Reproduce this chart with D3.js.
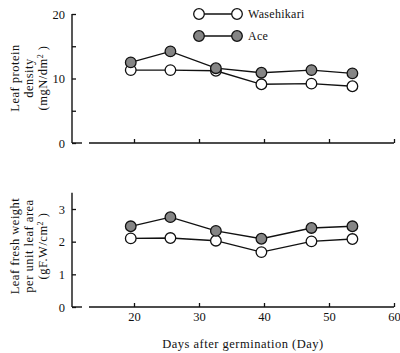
<!DOCTYPE html>
<html>
<head>
<meta charset="utf-8">
<script src="https://cdn.jsdelivr.net/npm/d3@7"></script>
<style>
  body { margin: 0; background: #fff; }
  svg { display: block; font-family: "Liberation Serif", "DejaVu Serif", serif; }
</style>
</head>
<body>
<svg></svg>
<script>
// data
let days = [19.5, 25.6, 32.6, 39.6, 47.3, 53.6];
let proteinWasehikari = [11.3, 11.3, 11.2, 9.1, 9.2, 8.8];
let proteinAce = [12.5, 14.2, 11.6, 10.9, 11.3, 10.8];
let weightWasehikari = [2.1, 2.11, 2.03, 1.68, 2.01, 2.08];
let weightAce = [2.47, 2.75, 2.33, 2.09, 2.42, 2.47];
let xTicks = [20, 30, 40, 50, 60];
let proteinTicks = [0, 5, 10, 15, 20];
let weightTicks = [0, 1, 2, 3];

let width = 400;
let height = 353;

const svg = d3.select('svg')
              .attr('width', width)
              .attr('height', height);

let xScale = d3.scaleLinear()
               .domain([0, 60])
               .range([4, 394]);

let yTop = d3.scaleLinear()
             .domain([0, 20])
             .range([143, 14]);

let yBottom = d3.scaleLinear()
                .domain([0, 3])
                .range([307, 209]);

let axisX0 = 72;

let drawPanel = (yScale, yTicks, yTop_, labelFmt, series, showXLabels, titleLines, titleY) => {
    let base = yScale(0);

    // y axis line
    svg.append('line')
       .attr('x1', axisX0).attr('x2', axisX0)
       .attr('y1', base).attr('y2', yTop_)
       .attr('stroke', '#111').attr('stroke-width', 1.4);

    let yAxis = d3.axisLeft(yScale)
                  .tickValues(yTicks)
                  .tickSize(-4)
                  .tickPadding(7)
                  .tickFormat(labelFmt);
    let gy = svg.append('g')
                .attr('transform', 'translate(' + axisX0 + ', 0)')
                .call(yAxis);
    gy.select('.domain').remove();
    gy.selectAll('line').attr('stroke', '#111').attr('stroke-width', 1.3);
    gy.selectAll('text').attr('font-size', 12.5).attr('fill', '#111')
      .attr('font-family', '"Liberation Serif", serif');

    // x axis, with break near the origin
    svg.append('line')
       .attr('x1', axisX0).attr('x2', 82)
       .attr('y1', base).attr('y2', base)
       .attr('stroke', '#111').attr('stroke-width', 1.4);
    svg.append('line')
       .attr('x1', 89).attr('x2', xScale(60))
       .attr('y1', base).attr('y2', base)
       .attr('stroke', '#111').attr('stroke-width', 1.4);

    let xAxis = d3.axisBottom(xScale)
                  .tickValues(xTicks)
                  .tickSize(-4)
                  .tickPadding(5)
                  .tickFormat(showXLabels ? d3.format('d') : () => '');
    let gx = svg.append('g')
                .attr('transform', 'translate(0, ' + base + ')')
                .call(xAxis);
    gx.select('.domain').remove();
    gx.selectAll('line').attr('stroke', '#111').attr('stroke-width', 1.3);
    gx.selectAll('text').attr('font-size', 12.5).attr('fill', '#111')
      .attr('font-family', '"Liberation Serif", serif');

    // lines and markers
    let line = d3.line()
                 .x((d, i) => xScale(days[i]))
                 .y((d) => yScale(d));

    series.forEach((s) => {
        svg.append('path')
           .datum(s.values)
           .attr('d', line)
           .attr('fill', 'none')
           .attr('stroke', '#111')
           .attr('stroke-width', 1.4);
    });
    series.forEach((s) => {
        svg.append('g')
           .selectAll('circle')
           .data(s.values)
           .enter()
           .append('circle')
           .attr('cx', (d, i) => xScale(days[i]))
           .attr('cy', (d) => yScale(d))
           .attr('r', 5.3)
           .attr('fill', s.fill)
           .attr('stroke', '#111')
           .attr('stroke-width', 1.3);
    });

    // rotated y title
    let t = svg.append('text')
               .attr('transform', 'translate(0,' + titleY + ') rotate(-90)')
               .attr('text-anchor', 'middle')
               .attr('font-size', 12.5)
               .attr('letter-spacing', 0.5)
               .attr('fill', '#111');
    titleLines.forEach((ln, i) => {
        let ts = t.append('tspan')
                  .attr('x', 0)
                  .attr('y', 19 + i * 14);
        ln.forEach((part) => {
            let p = ts.append('tspan').text(part.t);
            if (part.sup) p.attr('dy', -4).attr('font-size', 8);
            else if (part.after) p.attr('dy', 4);
        });
    });
};

drawPanel(yTop, proteinTicks, yTop(20),
          (d) => (d % 10 === 0 ? d : ''),
          [{ values: proteinWasehikari, fill: '#fff' },
           { values: proteinAce, fill: '#858585' }],
          false,
          [[{ t: 'Leaf protein' }], [{ t: 'density' }], [{ t: '(mgN/dm' }, { t: '2', sup: true }, { t: ' )', after: true }]],
          78);

drawPanel(yBottom, weightTicks, yBottom(3.5),
          d3.format('d'),
          [{ values: weightWasehikari, fill: '#fff' },
           { values: weightAce, fill: '#858585' }],
          true,
          [[{ t: 'Leaf fresh weight' }], [{ t: 'per unit leaf area' }], [{ t: '(gF.W/cm' }, { t: '2', sup: true }, { t: ' )', after: true }]],
          246);

// x title
svg.append('text')
   .attr('x', 243)
   .attr('y', 348)
   .attr('text-anchor', 'middle')
   .attr('font-size', 12.5)
   .attr('letter-spacing', 0.5)
   .attr('fill', '#111')
   .text('Days after germination  (Day)');

// legend
let legendItems = [
    { name: 'Wasehikari', fill: '#fff', y: 14 },
    { name: 'Ace', fill: '#858585', y: 36 }
];
legendItems.forEach((it) => {
    svg.append('line')
       .attr('x1', 199).attr('x2', 237)
       .attr('y1', it.y).attr('y2', it.y)
       .attr('stroke', '#111').attr('stroke-width', 1.4);
    [199, 237].forEach((cx) => {
        svg.append('circle')
           .attr('cx', cx).attr('cy', it.y).attr('r', 5.3)
           .attr('fill', it.fill).attr('stroke', '#111').attr('stroke-width', 1.3);
    });
    svg.append('text')
       .attr('x', 248).attr('y', it.y + 4)
       .attr('font-size', 12)
       .attr('letter-spacing', 0.3)
       .attr('fill', '#111')
       .text(it.name);
});
</script>
</body>
</html>
